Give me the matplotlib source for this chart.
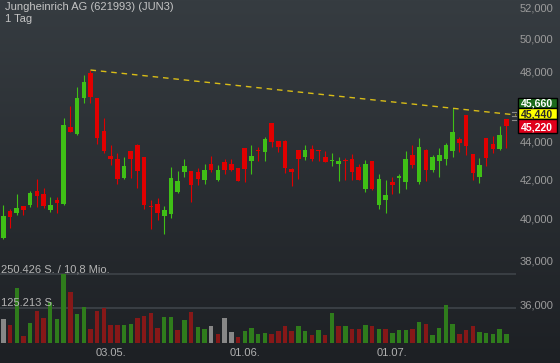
import numpy as np
import matplotlib
matplotlib.use("Agg")
import matplotlib.pyplot as plt
from matplotlib.patches import Rectangle
from matplotlib.ticker import FixedLocator, NullLocator, FuncFormatter, NullFormatter

plt.rcParams['font.family'] = ['Liberation Sans', 'DejaVu Sans']

# ---------------- data (EUR) ----------------
opens = [39.09, 40.40, 40.315, 40.65, 40.70, 41.41, 41.26, 40.465, 40.965, 40.765,
         44.825, 44.455, 46.48, 47.925, 46.48, 44.605, 43.245, 43.085, 42.10, 43.515,
         43.835, 43.19, 40.66, 40.75, 40.165, 40.265, 41.36, 42.41, 42.45, 42.395,
         41.995, 42.82, 41.995, 42.925, 42.82, 42.59, 43.675, 42.995, 43.54, 43.475,
         45.045, 44.055, 44.055, 42.555, 43.565, 43.205, 43.62, 43.565, 43.19, 42.99,
         42.835, 43.04, 43.085, 42.66, 41.53, 42.98, 40.70, 40.95, 41.86, 42.10,
         41.89, 43.30, 41.875, 43.565, 42.50, 42.98, 43.10, 43.53, 44.18, 45.495,
         43.335, 42.15, 44.22, 43.89, 43.62, 45.27]
highs = [40.69, 40.485, 41.24, 40.65, 41.395, 42.015, 41.55, 41.09, 41.09, 45.31,
         46.005, 47.085, 47.805, 48.10, 46.48, 45.31, 43.835, 43.39, 43.19, 43.515,
         43.89, 43.19, 40.95, 41.04, 40.65, 42.645, 42.45, 43.07, 42.45, 42.62,
         42.80, 43.23, 42.75, 43.10, 43.10, 42.59, 43.675, 43.835, 43.73, 44.275,
         45.045, 44.055, 44.11, 42.605, 43.565, 43.82, 43.82, 43.565, 43.495, 43.39,
         43.175, 43.12, 43.335, 42.80, 43.03, 42.98, 42.275, 41.98, 42.12, 42.29,
         43.515, 43.835, 44.22, 43.62, 43.30, 43.66, 43.93, 45.875, 44.29, 45.495,
         43.335, 43.12, 44.22, 44.345, 44.88, 45.27]
lows = [39.01, 39.545, 40.185, 40.185, 40.615, 40.615, 40.535, 40.335, 40.285, 40.715,
        44.565, 44.40, 46.16, 46.16, 43.875, 43.39, 42.75, 41.755, 42.015, 42.065,
        41.55, 40.485, 39.495, 39.95, 39.25, 40.035, 41.325, 42.12, 40.835, 41.705,
        41.785, 42.41, 41.925, 42.29, 42.45, 41.94, 41.875, 42.275, 42.995, 42.995,
        43.715, 43.475, 42.345, 41.65, 42.015, 43.015, 42.96, 42.96, 42.94, 42.695,
        41.94, 41.995, 41.98, 41.98, 41.36, 41.465, 40.485, 40.285, 41.24, 41.285,
        41.49, 42.59, 41.795, 41.90, 42.41, 42.15, 42.75, 43.205, 43.475, 43.28,
        41.965, 41.81, 42.71, 43.38, 43.54, 43.65]
closes = [40.15, 40.115, 40.55, 40.465, 41.31, 41.17, 40.665, 40.70, 40.815, 44.935,
          44.565, 46.465, 47.39, 46.535, 44.235, 43.53, 43.10, 42.03, 42.71, 43.10,
          42.465, 40.715, 40.61, 40.285, 40.45, 42.08, 41.925, 42.71, 41.735, 42.03,
          42.50, 42.52, 42.50, 42.52, 42.52, 41.94, 42.57, 43.245, 43.49, 44.165,
          44.015, 43.745, 42.62, 42.41, 43.10, 43.565, 43.10, 43.515, 42.94, 43.04,
          42.98, 42.99, 42.41, 41.98, 42.82, 41.53, 42.03, 41.205, 41.72, 42.185,
          43.085, 42.765, 43.73, 42.50, 43.19, 43.30, 43.835, 44.55, 43.96, 43.785,
          42.36, 42.765, 43.11, 43.62, 44.385, 44.88]
volumes = [86000, 66000, 201000, 25000, 71000, 115000, 89000, 149000, 87000, 250426,
           184000, 105000, 132000, 49000, 115000, 127000, 64000, 64000, 65000, 67000,
           89000, 99000, 108000, 54000, 94000, 94000, 48000, 83000, 112000, 59000,
           50000, 60000, 32000, 90000, 39000, 20000, 43000, 54000, 32000, 36000,
           32000, 44000, 60000, 44000, 61000, 44000, 28000, 46000, 28000, 109000,
           60000, 62000, 49000, 49000, 64000, 61000, 50000, 50000, 37000, 46000,
           48000, 51000, 76000, 68000, 27000, 54000, 138000, 68000, 31000, 45000,
           61000, 38000, 36000, 33000, 50000, 32000]
# 1 = up, -1 = down, 0 = unchanged (volume bar colour)
vol_dir = [0, -1, 1, -1, 1, -1, -1, 1, 1, 1,
           -1, 1, 1, -1, -1, -1, -1, -1, 1, 1,
           -1, -1, -1, -1, 1, 1, -1, 1, -1, 1,
           1, 0, -1, 0, 0, -1, 1, 1, 1, 1,
           -1, -1, -1, -1, 1, 1, -1, 1, -1, 1,
           -1, 1, -1, -1, 1, -1, 1, -1, 1, 1,
           1, -1, 1, -1, 1, 1, 1, 1, -1, -1,
           -1, 1, 1, 1, 1, 1]
turnover_text = "10,8 Mio."
date_tick_idx = [16, 36, 58]
date_tick_labels = ["03.05.", "01.06.", "01.07."]
price_ticks = [36, 38, 40, 42, 44, 48, 50, 52]   # 46 is hidden behind the value boxes
trend_idx = [13, 67]          # candles whose highs define the trend line
trend_end_idx = 76.45
label_values = [45.66, 45.44, 45.22]
title = "Jungheinrich AG (621993) (JUN3)"
subtitle = "1 Tag"

# ---------------- figure ----------------
W, H, DPI = 560, 363, 100
fig = plt.figure(figsize=(W / DPI, H / DPI), dpi=DPI)

bg = fig.add_axes([0, 0, 1, 1], zorder=0)
t = np.linspace(0, 1, 256)[:, None, None]
top_c = np.array([0x36, 0x3c, 0x41]) / 255.0
bot_c = np.array([0x1d, 0x20, 0x24]) / 255.0
img = top_c * (1 - t) + bot_c * t
img = np.repeat(img, 4, axis=1)
bg.imshow(img, aspect='auto', extent=[0, 1, 0, 1])
bg.set_axis_off()

n = len(opens)
x = np.arange(n)
O = np.array(opens); Hh = np.array(highs); L = np.array(lows); C = np.array(closes)
V = np.array(volumes, dtype=float)

px_per_idx = 6.707
x0_px = 3.3
xlim = (-x0_px / px_per_idx, (W - x0_px) / px_per_idx)

# volume axes
axv = fig.add_axes([0, 0, 1, 1], zorder=1)
axv.patch.set_alpha(0)
axv.set_xlim(*xlim)
vpp = 3660.0
axv.set_ylim(-(H - 342.7) * vpp, 342.7 * vpp)
axv.set_axis_off()
vcol = {1: '#2f7c1c', -1: '#861818', 0: '#878787'}
axv.bar(x, V, width=0.66, color=[vcol[d] for d in vol_dir], linewidth=0)
vmax = V.max()
grid_levels = [vmax / 2, vmax]
axv.hlines(grid_levels, 0, 516 / W, transform=axv.get_yaxis_transform(),
           colors='#3a3f44', linewidth=1.4, zorder=0)
fmt_int = lambda v: f"{v:,.0f}".replace(",", ".")
axv.annotate(f"{fmt_int(vmax)} S. / {turnover_text}", xy=(0, vmax),
             xycoords=axv.get_yaxis_transform(), xytext=(1, 0),
             textcoords='offset pixels', ha='left', va='bottom',
             color='#b4b4b4', fontsize=8)
axv.annotate(f"{fmt_int(vmax / 2)} S.", xy=(0, vmax / 2),
             xycoords=axv.get_yaxis_transform(), xytext=(1, 0),
             textcoords='offset pixels', ha='left', va='bottom',
             color='#b4b4b4', fontsize=8)

# price axes (log)
ax = fig.add_axes([0, 0, 1, 1], zorder=2)
ax.patch.set_alpha(0)
ax.set_yscale('log')
ax.set_ylim(33.470, 52.453)
ax.set_xlim(*xlim)
for s in ax.spines.values():
    s.set_visible(False)

up = C >= O
ccol = np.where(up, '#3fc016', '#e10000')
ax.vlines(x, L, Hh, colors=ccol, linewidth=0.8, zorder=3)
ax.bar(x, np.abs(C - O), bottom=np.minimum(O, C), width=0.68, color=ccol,
       linewidth=0, zorder=4)

# trend line through two highs
ti = np.array(trend_idx)
tv = Hh[ti]
slope = (np.log(tv[1]) - np.log(tv[0])) / (ti[1] - ti[0])
tx = np.array([ti[0], trend_end_idx])
ty = np.exp(np.log(tv[0]) + slope * (tx - ti[0]))
ax.plot(tx, ty, color='#d8bc17', linewidth=1.0, linestyle=(0, (4, 3.5)), zorder=5)

# y ticks on right, inside
ax.yaxis.set_major_locator(FixedLocator(price_ticks))
ax.yaxis.set_minor_locator(NullLocator())
ax.yaxis.set_minor_formatter(NullFormatter())
ax.yaxis.set_major_formatter(FuncFormatter(lambda v, p: f"{v:.3f}".replace(".", ",")))
ax.yaxis.tick_right()
ax.tick_params(axis='y', length=0, pad=-29, labelsize=8, labelcolor='#9c9c9c')

# x ticks
ax.set_xticks(date_tick_idx)
ax.set_xticklabels(date_tick_labels)
ax.tick_params(axis='x', length=0, pad=-10.5, labelsize=8, labelcolor='#b0b0b0')

# right value labels (stacked boxes, position derived from the value level)
# (face, text colour, top offset px, bottom offset px) relative to value level
lab_style = [('#1c6a1c', 'white', -14.5, -4.3),
             ('#ffff00', '#2a2a2a', -8.3, 3.0),
             ('#e0001b', 'white', -0.9, 13.6)]
fig.canvas.draw()
for v, (fc, tc, t_off, b_off) in zip(label_values, lab_style):
    ypx = H - ax.transData.transform((0, v))[1]   # pixels from top
    # small level tick
    ax.plot([511.5 / W, 516 / W], [v, v], transform=ax.get_yaxis_transform(),
            color='#8a8a8a', lw=0.8, zorder=6)
    top_px, bot_px = ypx + t_off, ypx + b_off
    rect = Rectangle((517.5 / W, 1 - bot_px / H), 39 / W, (bot_px - top_px) / H,
                     transform=fig.transFigure, facecolor=fc, edgecolor='black',
                     lw=1.0, zorder=20)
    fig.add_artist(rect)
    fig.text(537 / W, 1 - (top_px + bot_px) / 2 / H, f"{v:.3f}".replace(".", ","),
             ha='center', va='center_baseline', fontsize=7.6, fontweight='bold',
             color=tc, zorder=21)

fig.text(5 / W, 1 - 10.5 / H, title, ha='left', va='baseline', color='#c4c4c4', fontsize=8.0)
fig.text(5 / W, 1 - 21.5 / H, subtitle, ha='left', va='baseline', color='#c4c4c4', fontsize=8.0)

fig.savefig("out.png", dpi=DPI)
